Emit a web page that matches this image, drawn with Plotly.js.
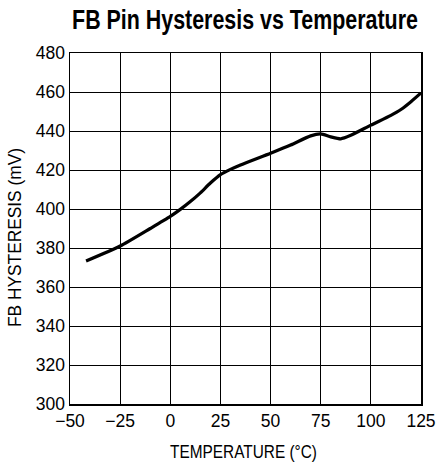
<!DOCTYPE html>
<html>
<head>
<meta charset="utf-8">
<script src="https://cdn.plot.ly/plotly-3.0.1.min.js"></script>
<style>html,body{margin:0;padding:0;background:#fff;}#chart{width:436px;height:463px;}</style>
</head>
<body>
<div id="chart"></div>
<script>
const temperature = [-42, -25, -10, 0, 5, 10, 15, 20, 25, 30, 35, 50, 60, 70, 75, 80, 85, 90, 100, 110, 115, 120, 125];
const hysteresis = [373.3, 381, 390, 396.2, 399.8, 403.8, 408.3, 413.3, 417.6, 420.3, 422.6, 428.6, 432.8, 437.5, 438.5, 437, 436, 437.8, 443, 448, 451, 455, 459.5];
const xTicks = [-50, -25, 0, 25, 50, 75, 100, 125];
const xTickLabels = ['\u221250', '\u221225', '0', '25', '50', '75', '100', '125'];
const yTicks = [300, 320, 340, 360, 380, 400, 420, 440, 460, 480];

const fontFam = '"Liberation Sans", Arial, sans-serif';

Plotly.newPlot('chart', [{
  x: temperature, y: hysteresis, type: 'scatter', mode: 'lines',
  line: {color: '#000', width: 3.2, shape: 'spline', smoothing: 0.6},
  hoverinfo: 'skip'
}], {
  width: 436, height: 463,
  margin: {l: 70, r: 15, t: 53, b: 59},
  paper_bgcolor: '#fff', plot_bgcolor: '#fff',
  showlegend: false,
  title: {text: '<b>FB Pin Hysteresis vs Temperature</b>', font: {family: fontFam, size: 27, color: '#000'}, x: 245/436, xanchor: 'center', y: 1 - 20/463, yanchor: 'middle'},
  xaxis: {
    range: [-50, 125], tickvals: xTicks, ticktext: xTickLabels,
    showgrid: true, gridcolor: '#000', gridwidth: 1,
    showline: true, linecolor: '#000', linewidth: 1.5, mirror: true,
    ticks: '', zeroline: false,
    tickfont: {family: fontFam, size: 17.5, color: '#000'},
    title: {text: 'TEMPERATURE (\u00B0C)', font: {family: fontFam, size: 18, color: '#000'}, standoff: 9}
  },
  yaxis: {
    range: [300, 480], tickvals: yTicks,
    showgrid: true, gridcolor: '#000', gridwidth: 1,
    showline: true, linecolor: '#000', linewidth: 1.5, mirror: true,
    ticks: '', zeroline: false,
    tickfont: {family: fontFam, size: 17.5, color: '#000'},
    title: {text: 'FB HYSTERESIS (mV)', font: {family: fontFam, size: 18, color: '#000'}, standoff: 12}
  }
}, {displayModeBar: false, staticPlot: true}).then(function (gd) {
  // narrow the text (condensed look) and place its centre at (cx, cy) in page pixels
  function fit(sel, targetLen, cx, cy) {
    const el = gd.querySelector(sel);
    if (!el) return;
    const bb = el.getBBox();
    if (!bb.width) return;
    const s = targetLen / bb.width;
    const x = parseFloat(el.getAttribute('x')) || 0;
    const y = parseFloat(el.getAttribute('y')) || 0;
    const old = el.getAttribute('transform') || '';
    el.setAttribute('transform', old + ' translate(' + x + ',' + y + ') scale(' + s + ',1) translate(' + (-x) + ',' + (-y) + ')');
    const r = el.getBoundingClientRect();
    const dx = cx - (r.left + r.width / 2);
    const dy = cy - (r.top + r.height / 2);
    el.setAttribute('transform', 'translate(' + dx + ',' + dy + ') ' + el.getAttribute('transform'));
  }
  fit('.gtitle', 346, 245, 20);
  fit('.xtitle', 147, 243.5, 452);
  fit('.ytitle', 179, 15, 237.5);
});
</script>
</body>
</html>
